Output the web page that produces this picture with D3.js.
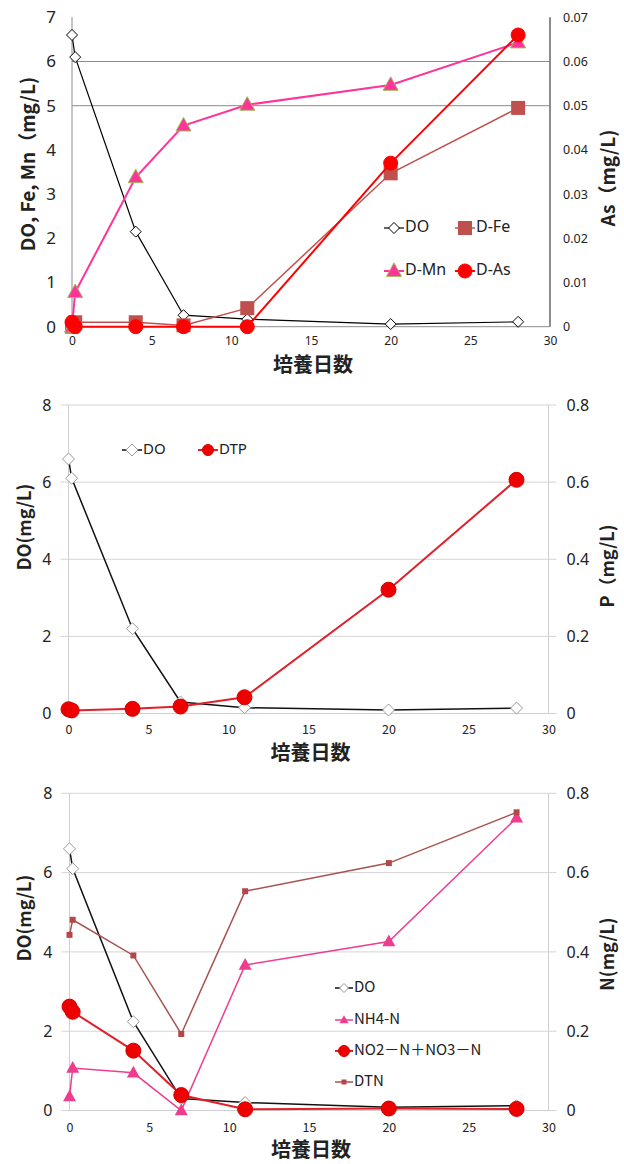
<!DOCTYPE html>
<html>
<head>
<meta charset="utf-8">
<script src="https://cdn.jsdelivr.net/npm/d3@7"></script>
<style>
  html, body { margin: 0; padding: 0; background: #fff; }
  svg { display: block; }
  text { font-family: "Noto Sans", "Open Sans", sans-serif; fill: #222; }
  .jp { font-family: "Noto Sans CJK JP", sans-serif; font-weight: 700; }
</style>
</head>
<body>
<svg id="chart" width="624" height="1164"></svg>
<script>
// Sampling days (the two day-0 samples sit side by side)
const days = [0, 0.2, 4, 7, 11, 20, 28];
const xTicks = [0, 5, 10, 15, 20, 25, 30];
const xTitle = "培養日数";

// Chart 1: DO, dissolved Fe, Mn (mg/L, left) and dissolved As (mg/L, right)
const doA = [6.6, 6.1, 2.15, 0.26, 0.17, 0.06, 0.11];
const feA = [0.0, 0.1, 0.1, 0.03, 0.42, 3.47, 4.95];
const mnA = [0.0, 0.78, 3.38, 4.55, 5.02, 5.47, 6.43];
const asA = [0.001, 0.0, 0.0, 0.0, 0.0, 0.037, 0.066];
const leftTicksA = [0, 1, 2, 3, 4, 5, 6, 7];
const rightTicksA = [0, 0.01, 0.02, 0.03, 0.04, 0.05, 0.06, 0.07];
const gridA = [5, 6];

// Chart 2: DO (left) and dissolved total phosphorus (right)
const doB = [6.6, 6.1, 2.2, 0.3, 0.15, 0.09, 0.14];
const dtpB = [0.011, 0.008, 0.012, 0.018, 0.042, 0.321, 0.606];
const leftTicksB = [0, 2, 4, 6, 8];
const rightTicksB = [0, 0.2, 0.4, 0.6, 0.8];

// Chart 3: DO (left) and nitrogen species (right)
const doC = [6.6, 6.1, 2.24, 0.3, 0.2, 0.08, 0.12];
const nh4C = [0.035, 0.107, 0.095, 0.0, 0.367, 0.426, 0.738];
const noxC = [0.262, 0.249, 0.151, 0.039, 0.003, 0.005, 0.004];
const dtnC = [0.443, 0.481, 0.391, 0.193, 0.553, 0.624, 0.752];
const leftTicksC = [0, 2, 4, 6, 8];
const rightTicksC = [0, 0.2, 0.4, 0.6, 0.8];

const svg = d3.select("#chart");

function drawMarker(g, type, x, y, st) {
  const s = st.size;
  if (type === "diamond") {
    g.append("path")
      .attr("d", `M${x},${y - s / 2}L${x + s / 2},${y}L${x},${y + s / 2}L${x - s / 2},${y}Z`)
      .attr("fill", "#fff").attr("stroke", st.stroke).attr("stroke-width", 1);
  } else if (type === "square") {
    g.append("rect").attr("x", x - s / 2).attr("y", y - s / 2)
      .attr("width", s).attr("height", s)
      .attr("fill", st.fill).attr("stroke", st.stroke || "none");
  } else if (type === "triangle") {
    const h = s * 0.9;
    g.append("path")
      .attr("d", `M${x},${y - h * 0.6}L${x + s / 2},${y + h * 0.4}L${x - s / 2},${y + h * 0.4}Z`)
      .attr("fill", st.fill).attr("stroke", st.stroke || "none").attr("stroke-width", 1);
  } else if (type === "circle") {
    g.append("circle").attr("cx", x).attr("cy", y).attr("r", s / 2)
      .attr("fill", st.fill).attr("stroke", st.stroke || "none").attr("stroke-width", 1);
  }
}

function drawPanel(p) {
  const g = svg.append("g");
  const x = d3.scaleLinear().domain([0, 30]).range([p.left, p.right]);
  const yL = d3.scaleLinear().domain(p.leftDomain).range([p.bottom, p.top]);
  const yR = d3.scaleLinear().domain(p.rightDomain).range([p.bottom, p.top]);

  // gridlines
  g.append("g").selectAll("line").data(p.grid).join("line")
    .attr("x1", p.left - p.gridExt).attr("x2", p.right + p.gridExt)
    .attr("y1", d => yL(d)).attr("y2", d => yL(d))
    .attr("stroke", p.gridColor).attr("stroke-width", 1);

  // axis lines
  g.append("line").attr("x1", p.left).attr("x2", p.left)
    .attr("y1", p.top).attr("y2", p.bottom)
    .attr("stroke", p.axisColor).attr("stroke-width", 1);
  g.append("line").attr("x1", p.right).attr("x2", p.right)
    .attr("y1", p.top).attr("y2", p.bottom)
    .attr("stroke", p.axisColor).attr("stroke-width", p.rightAxisWidth);
  g.append("line").attr("x1", p.left).attr("x2", p.right)
    .attr("y1", p.bottom).attr("y2", p.bottom)
    .attr("stroke", p.axisColor).attr("stroke-width", 1);

  // x tick labels
  const xAxis = d3.axisBottom(x).tickValues(xTicks).tickSize(0).tickPadding(p.xTickPad);
  const xg = g.append("g").attr("transform", `translate(0,${p.bottom})`).call(xAxis);
  xg.select(".domain").remove();
  xg.selectAll("text").style("font-size", p.xTickFont + "px")
    .style("font-family", p.xTickFamily).style("font-weight", p.xTickWeight).attr("fill", "#222");

  // left tick labels
  const lAxis = d3.axisLeft(yL).tickValues(p.leftTicks).tickSize(0).tickPadding(p.leftPad)
    .tickFormat(d3.format("~g"));
  const lg = g.append("g").attr("transform", `translate(${p.left},0)`).call(lAxis);
  lg.select(".domain").remove();
  lg.selectAll("text").style("font-size", p.leftTickFont + "px").attr("fill", "#222");

  // right tick labels
  const rAxis = d3.axisRight(yR).tickValues(p.rightTicks).tickSize(0).tickPadding(p.rightPad)
    .tickFormat(d3.format("~g"));
  const rg = g.append("g").attr("transform", `translate(${p.right},0)`).call(rAxis);
  rg.select(".domain").remove();
  rg.selectAll("text").style("font-size", p.rightTickFont + "px").attr("fill", "#222");

  // axis titles
  g.append("text").attr("class", "jp")
    .attr("transform", `translate(${p.leftTitleX},${p.titleY}) rotate(-90)`)
    .attr("text-anchor", "middle").attr("dominant-baseline", "middle")
    .style("font-size", p.titleFont + "px").text(p.leftTitle);
  g.append("text").attr("class", "jp")
    .attr("transform", `translate(${p.rightTitleX},${p.rightTitleY}) rotate(-90)`)
    .attr("text-anchor", "middle").attr("dominant-baseline", "middle")
    .style("font-size", p.titleFont + "px").text(p.rightTitle);
  g.append("text").attr("class", "jp")
    .attr("x", (p.left + p.right) / 2 + 2).attr("y", p.xTitleY)
    .attr("text-anchor", "middle").attr("dominant-baseline", "middle")
    .style("font-size", p.xTitleFont + "px").text(xTitle);

  // series
  p.series.forEach(s => {
    const yS = s.axis === "right" ? yR : yL;
    const pts = days.map((d, i) => [x(d), yS(s.values[i])]);
    g.append("path").attr("d", d3.line()(pts))
      .attr("fill", "none").attr("stroke", s.line).attr("stroke-width", s.lineWidth);
    const mg = g.append("g");
    pts.forEach(pt => drawMarker(mg, s.marker, pt[0], pt[1], s.style));
  });

  // legend
  p.legend.forEach(it => {
    const s = p.series.find(d => d.name === it.name);
    const lgG = g.append("g");
    lgG.append("line").attr("x1", it.x).attr("x2", it.x + it.len)
      .attr("y1", it.y).attr("y2", it.y)
      .attr("stroke", s.line).attr("stroke-width", s.lineWidth);
    drawMarker(lgG, s.marker, it.x + it.len / 2, it.y, it.style || s.style);
    lgG.append("text").attr("x", it.x + it.len + 1).attr("y", it.y)
      .attr("dominant-baseline", "middle").style("font-size", p.legendFont + "px")
      .style("font-family", p.legendFamily)
      .text(s.name);
  });
}

// Chart 1
drawPanel({
  left: 72, right: 550, top: 17.3, bottom: 326.7,
  leftDomain: [0, 7], rightDomain: [0, 0.07],
  grid: gridA, gridExt: 0, gridColor: "#8c8c8c", axisColor: "#8c8c8c", rightAxisWidth: 2,
  leftTicks: leftTicksA, rightTicks: rightTicksA,
  leftPad: 16, rightPad: 13, leftTickFont: 17, rightTickFont: 12.5,
  xTickPad: 10, xTickFont: 12, xTickFamily: "Noto Sans", xTickWeight: 400,
  leftTitle: "DO, Fe, Mn（mg/L)", leftTitleX: 30, titleY: 164,
  rightTitle: "As（mg/L)", rightTitleX: 610, rightTitleY: 178,
  titleFont: 19, xTitleY: 367, xTitleFont: 20, legendFont: 16, legendFamily: "Noto Sans",
  series: [
    { name: "DO", values: doA, axis: "left", marker: "diamond", line: "#000", lineWidth: 1.2,
      style: { size: 11, stroke: "#000" } },
    { name: "D-Fe", values: feA, axis: "left", marker: "square", line: "#c0504d", lineWidth: 1.5,
      style: { size: 14, fill: "#c0504d" } },
    { name: "D-Mn", values: mnA, axis: "left", marker: "triangle", line: "#ff3399", lineWidth: 2,
      style: { size: 15, fill: "#ff3399", stroke: "#9bbb59" } },
    { name: "D-As", values: asA, axis: "right", marker: "circle", line: "#ff0000", lineWidth: 2,
      style: { size: 14, fill: "#ff0000", stroke: "#ff0000" } }
  ],
  legend: [
    { name: "DO", x: 384, y: 228, len: 20 },
    { name: "D-Fe", x: 455, y: 228, len: 20 },
    { name: "D-Mn", x: 384, y: 271, len: 20 },
    { name: "D-As", x: 455, y: 271, len: 20 }
  ]
});

// Chart 2
drawPanel({
  left: 68.5, right: 548.5, top: 405, bottom: 713.5,
  leftDomain: [0, 8], rightDomain: [0, 0.8],
  grid: leftTicksB, gridExt: 8, gridColor: "#d4d4d4", axisColor: "#cfcfcf", rightAxisWidth: 1,
  leftTicks: leftTicksB, rightTicks: rightTicksB,
  leftPad: 17, rightPad: 18, leftTickFont: 16, rightTickFont: 16,
  xTickPad: 12, xTickFont: 12.5, xTickFamily: "Noto Sans CJK JP", xTickWeight: 400,
  leftTitle: "DO(mg/L)", leftTitleX: 26, titleY: 527,
  rightTitle: "P（mg/L)", rightTitleX: 609, rightTitleY: 566,
  titleFont: 18, xTitleY: 755, xTitleFont: 20, legendFont: 15, legendFamily: "Noto Sans",
  series: [
    { name: "DO", values: doB, axis: "left", marker: "diamond", line: "#111", lineWidth: 1.5,
      style: { size: 12, stroke: "#999" } },
    { name: "DTP", values: dtpB, axis: "right", marker: "circle", line: "#e0202a", lineWidth: 2,
      style: { size: 15, fill: "#ee0000", stroke: "#d40000" } }
  ],
  legend: [
    { name: "DO", x: 122, y: 450, len: 20 },
    { name: "DTP", x: 198, y: 450, len: 20, style: { size: 11, fill: "#ee0000", stroke: "#d40000" } }
  ]
});

// Chart 3
drawPanel({
  left: 69.5, right: 548.5, top: 793.3, bottom: 1110.5,
  leftDomain: [0, 8], rightDomain: [0, 0.8],
  grid: leftTicksC, gridExt: 8, gridColor: "#d4d4d4", axisColor: "#cfcfcf", rightAxisWidth: 1,
  leftTicks: leftTicksC, rightTicks: rightTicksC,
  leftPad: 17, rightPad: 18, leftTickFont: 16, rightTickFont: 16,
  xTickPad: 13, xTickFont: 12.5, xTickFamily: "Noto Sans CJK JP", xTickWeight: 400,
  leftTitle: "DO(mg/L)", leftTitleX: 26, titleY: 918,
  rightTitle: "N(mg/L)", rightTitleX: 609, rightTitleY: 954,
  titleFont: 18, xTitleY: 1152, xTitleFont: 20, legendFont: 15, legendFamily: "Noto Sans CJK JP",
  series: [
    { name: "DO", values: doC, axis: "left", marker: "diamond", line: "#111", lineWidth: 1.5,
      style: { size: 12, stroke: "#999" } },
    { name: "NH4-N", values: nh4C, axis: "right", marker: "triangle", line: "#ee3d8f", lineWidth: 1.5,
      style: { size: 13, fill: "#ee3d8f" } },
    { name: "NO2－N＋NO3－N", values: noxC, axis: "right", marker: "circle", line: "#e0202a", lineWidth: 2,
      style: { size: 15, fill: "#ee0000", stroke: "#d40000" } },
    { name: "DTN", values: dtnC, axis: "right", marker: "square", line: "#a8524f", lineWidth: 1.5,
      style: { size: 6, fill: "#b5474a" } }
  ],
  legend: [
    { name: "DO", x: 335, y: 988, len: 18, style: { size: 9, stroke: "#999" } },
    { name: "NH4-N", x: 335, y: 1020, len: 18, style: { size: 9, fill: "#ee3d8f" } },
    { name: "NO2－N＋NO3－N", x: 335, y: 1051, len: 18, style: { size: 11, fill: "#ee0000", stroke: "#d40000" } },
    { name: "DTN", x: 335, y: 1082, len: 18, style: { size: 5, fill: "#b5474a" } }
  ]
});
</script>
</body>
</html>
